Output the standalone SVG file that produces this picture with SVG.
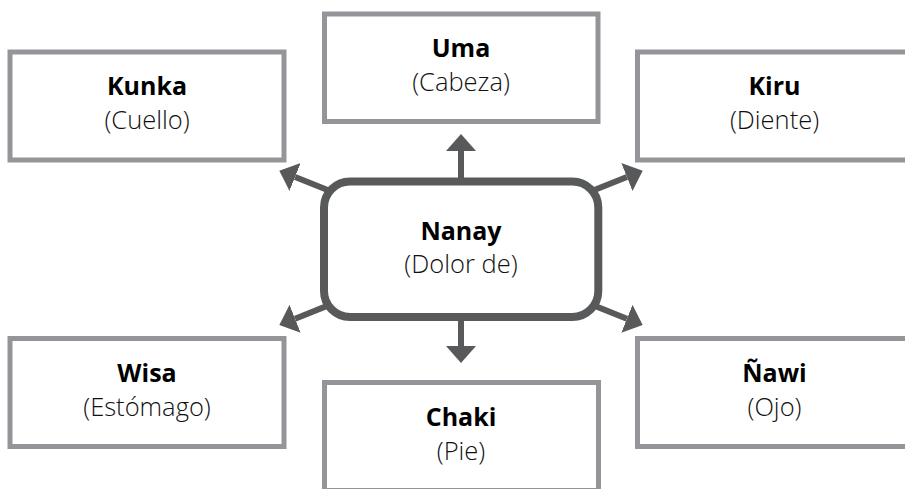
<svg xmlns="http://www.w3.org/2000/svg" width="905" height="489" viewBox="0 0 905 489">
<style>
.box{fill:#fff;stroke:#939598;stroke-width:5}
.hub{fill:#fff;stroke:#58595b;stroke-width:8}
.conn{stroke:#58595b;stroke-width:6;fill:none;marker-end:url(#ah)}
.t{font-family:"Open Sans","Noto Sans","Liberation Sans",sans-serif;text-anchor:middle}
.b{font-weight:700;font-size:25px;fill:#000}
.r{font-weight:300;font-size:25.5px;fill:#111}
</style>
<defs>
<marker id="ah" markerUnits="userSpaceOnUse" viewBox="0 -15 17 30" refX="0" refY="0" markerWidth="17" markerHeight="30" orient="auto">
<path d="M0,-15 L17,0 L0,15 Z" fill="#58595b"/>
</marker>
</defs>
<rect width="905" height="489" fill="#fff"/>
<g id="connectors">
<line class="conn" x1="461" y1="249" x2="461" y2="151"/>
<line class="conn" x1="461" y1="249" x2="461" y2="346"/>
<line class="conn" x1="350.8" y1="199.3" x2="295.1" y2="177"/>
<line class="conn" x1="571.2" y1="199.3" x2="626.9" y2="177"/>
<line class="conn" x1="571.2" y1="296.4" x2="626.9" y2="318.7"/>
<line class="conn" x1="350.8" y1="296.4" x2="295.1" y2="318.7"/>
</g>
<g id="nanay">
<rect class="hub" x="324" y="181.5" width="274.3" height="135.5" rx="26"/>
<text class="t b" x="461" y="239.5">Nanay</text>
<text class="t r" x="461" y="273">(Dolor de)</text>
</g>
<g id="uma">
<rect class="box" x="324.5" y="14" width="273.5" height="107.5"/>
<text class="t b" x="461" y="57">Uma</text>
<text class="t r" x="461" y="90.5">(Cabeza)</text>
</g>
<g id="kunka">
<rect class="box" x="10" y="52" width="274" height="108"/>
<text class="t b" x="147" y="95">Kunka</text>
<text class="t r" x="147" y="128.5">(Cuello)</text>
</g>
<g id="kiru">
<rect class="box" x="637.5" y="52" width="274" height="108"/>
<text class="t b" x="774.5" y="95">Kiru</text>
<text class="t r" x="774.5" y="128.5">(Diente)</text>
</g>
<g id="wisa">
<rect class="box" x="10" y="338.5" width="274" height="108"/>
<text class="t b" x="147" y="382">Wisa</text>
<text class="t r" x="147" y="415.5">(Estómago)</text>
</g>
<g id="nawi">
<rect class="box" x="637.5" y="338.5" width="274" height="108"/>
<text class="t b" x="774.5" y="382">Ñawi</text>
<text class="t r" x="774.5" y="415.5">(Ojo)</text>
</g>
<g id="chaki">
<rect class="box" x="324.5" y="382.5" width="274" height="108"/>
<text class="t b" x="461" y="426">Chaki</text>
<text class="t r" x="461" y="459.5">(Pie)</text>
</g>
</svg>
